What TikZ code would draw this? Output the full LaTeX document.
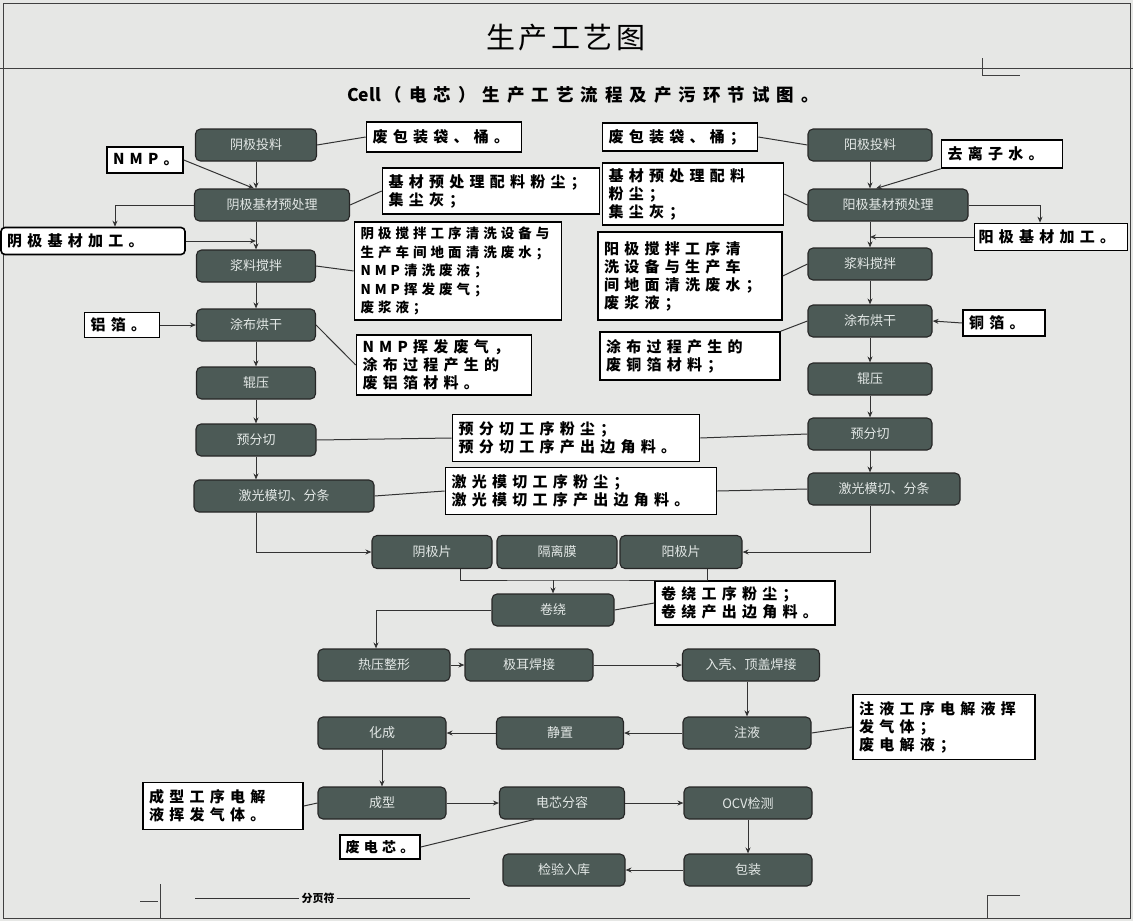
\documentclass[tikz,border=0pt]{standalone}
\usepackage{fontspec}
\newfontfamily\cjk{Noto Sans CJK SC}
\newfontfamily\cjkw[LetterSpace=35]{Noto Sans CJK SC}
\newfontfamily\cjkn[LetterSpace=30]{Noto Sans CJK SC}
\newfontfamily\cjks[LetterSpace=40]{Noto Sans CJK SC}
\newfontfamily\cjkt[LetterSpace=12]{Noto Sans CJK SC}
\usetikzlibrary{arrows.meta}
\definecolor{bg}{HTML}{E6E7E5}
\definecolor{procfill}{HTML}{4C5A56}
\definecolor{proctext}{HTML}{E3E8E6}
\begin{document}
\begin{tikzpicture}[x=1pt,y=-1pt,
 proc/.style={draw=black!85, line width=1.1pt, fill=procfill, rounded corners=5pt, text=proctext, font=\cjk\fontsize{13}{14}\selectfont, minimum height=32pt, inner sep=0pt},
 wbox/.style={draw=black, line width=1.6pt, fill=white, font=\cjkw\bfseries\fontsize{15}{18}\selectfont, align=left, inner xsep=6pt, inner ysep=0pt},
 wb/.style={wbox, text width=#1},
 conn/.style={draw=black!80, line width=1pt},
 arr/.style={conn, -{Stealth[length=6pt,width=5pt]}},
 frame/.style={draw=black!75, line width=0.8pt}
]
\fill[bg] (0,0) rectangle (1133,921);
\useasboundingbox (0,0) rectangle (1133,921);
\draw[frame] (3,3) rectangle (1130,918);
\draw[frame] (0,68) -- (1133,68);
\draw[frame] (982,58) -- (982,75) -- (1020,75);
\draw[frame] (1020,895) -- (987,895) -- (987,918);

\node[font=\cjkt\fontsize{29}{32}\selectfont] (title) at (566,38) {生产工艺图};
\node[font=\cjks\bfseries\fontsize{17.5}{18}\selectfont] (sub) at (583,95) {{\cjk\bfseries Cell\ }（电芯）生产工艺流程及产污环节试图。};

% left column
\node[proc, minimum width=121pt] (L1) at (256,145) {阴极投料};
\node[proc, minimum width=155pt] (L2) at (272,205) {阴极基材预处理};
\node[proc, minimum width=119pt] (L3) at (256,266) {浆料搅拌};
\node[proc, minimum width=119pt] (L4) at (256,325) {涂布烘干};
\node[proc, minimum width=119pt] (L5) at (256,383) {辊压};
\node[proc, minimum width=120pt] (L6) at (256,440) {预分切};
\node[proc, minimum width=180pt] (L7) at (284,496) {激光模切、分条};

% right column
\node[proc, minimum width=124pt] (R1) at (870,145) {阳极投料};
\node[proc, minimum width=160pt] (R2) at (888,205) {阳极基材预处理};
\node[proc, minimum width=124pt] (R3) at (870,264) {浆料搅拌};
\node[proc, minimum width=124pt] (R4) at (870,321) {涂布烘干};
\node[proc, minimum width=124pt] (R5) at (870,379) {辊压};
\node[proc, minimum width=124pt] (R6) at (870,434) {预分切};
\node[proc, minimum width=152pt] (R7) at (884,489) {激光模切、分条};

% left side boxes
\node[wb=64pt, minimum height=26pt] (NMP) at (145,160) {NMP。};
\node[wb=172pt, minimum height=27pt, rounded corners=4pt] (Lbase) at (93,241) {阴极基材加工。};
\node[wb=63pt, minimum height=25pt] (Alu) at (122,325) {铝箔。};
\node[wb=143pt, minimum height=30pt] (W1L) at (444,137) {废包装袋、桶。};
\node[wb=205pt, minimum height=46pt] (W2L) at (491,191) {基材预处理配料粉尘；\\集尘灰；};
\node[wb=195pt, minimum height=98pt, font=\cjkn\bfseries\fontsize{13.5}{18.5}\selectfont] (W3L) at (458,271) {阴极搅拌工序清洗设备与\\生产车间地面清洗废水；\\NMP清洗废液；\\NMP挥发废气；\\废浆液；};
\node[wb=163pt, minimum height=60pt] (W4L) at (444,365) {NMP挥发废气，\\涂布过程产生的\\废铝箔材料。};
\node[wb=235pt, minimum height=47pt] (W6) at (576,438) {预分切工序粉尘；\\预分切工序产出边角料。};
\node[wb=259pt, minimum height=47pt] (W7) at (581,491) {激光模切工序粉尘；\\激光模切工序产出边角料。};

% right side boxes
\node[wb=143pt, minimum height=28pt] (W1R) at (680,137) {废包装袋、桶；};
\node[wb=109pt, minimum height=28pt] (Water) at (1002,154) {去离子水。};
\node[wb=169pt, minimum height=62pt] (W2R) at (693,194) {基材预处理配料\\粉尘；\\集尘灰；};
\node[wb=145pt, minimum height=27pt, inner xsep=4pt] (Rbase) at (1051,237) {阳极基材加工。};
\node[wb=172pt, minimum height=88pt] (W3R) at (690,276) {阳极搅拌工序清\\洗设备与生产车\\间地面清洗废水；\\废浆液；};
\node[wb=70pt, minimum height=26pt] (Cu) at (1004,323) {铜箔。};
\node[wb=168pt, minimum height=48pt] (W4R) at (690,356) {涂布过程产生的\\废铜箔材料；};

% middle
\node[proc, minimum width=120pt, minimum height=33pt] (CP) at (432,552) {阴极片};
\node[proc, minimum width=120pt, minimum height=33pt] (SP) at (557,552) {隔离膜};
\node[proc, minimum width=122pt, minimum height=33pt] (AP) at (681,552) {阳极片};
\coordinate (J) at (553,580);
\node[proc, minimum width=122pt] (WR) at (553,610) {卷绕};
\node[wb=168pt, minimum height=44pt] (WWR) at (745,603) {卷绕工序粉尘；\\卷绕产出边角料。};

\node[proc, minimum width=132pt] (H1) at (384,665) {热压整形};
\node[proc, minimum width=128pt] (H2) at (529,665) {极耳焊接};
\node[proc, minimum width=137pt] (H3) at (751,665) {入壳、顶盖焊接};

\node[proc, minimum width=128pt] (F1) at (382,733) {化成};
\node[proc, minimum width=127pt] (F2) at (560,733) {静置};
\node[proc, minimum width=128pt] (F3) at (747,733) {注液};
\node[wb=170pt, minimum height=65pt] (WF3) at (944,727) {注液工序电解液挥\\发气体；\\废电解液；};

\node[proc, minimum width=128pt] (G1) at (382,803) {成型};
\node[proc, minimum width=125pt] (G2) at (562,803) {电芯分容};
\node[proc, minimum width=128pt] (G3) at (748,803) {OCV检测};
\node[wb=148pt, minimum height=47pt] (WG1) at (223,806) {成型工序电解\\液挥发气体。};
\node[wbox, minimum width=80pt, minimum height=24pt, inner xsep=3pt, font=\cjkn\bfseries\fontsize{14}{16}\selectfont] (Dead) at (380,847) {废电芯。};

\node[proc, minimum width=122pt] (K1) at (564,870) {检验入库};
\node[proc, minimum width=128pt] (K2) at (748,870) {包装};

% footer
\node[font=\cjk\bfseries\fontsize{11}{12}\selectfont, inner sep=2pt] (pb) at (318,898) {分页符};
\coordinate (pbl) at (195,898);
\coordinate (pbr) at (470,898);
\draw[conn, line width=0.7pt] (pbl) -- (pb.west);
\draw[conn, line width=0.7pt] (pb.east) -- (pbr);
\draw[frame] (160,884) -- (160,918);
\draw[frame] (140,901) -- (158,901);

% left connectors
\draw[arr] (L1.south) -- (L1.south |- L2.north);
\draw[arr] (NMP.east) -- ([xshift=-2pt]L1.south |- L2.north);
\draw[arr] (L2.west) -| ([xshift=22pt]Lbase.north);
\draw[arr] (Lbase.east) -- (Lbase.east -| L1.south);
\draw[arr] (L1.south |- L2.south) -- (L3.north);
\draw[arr] (L3.south) -- (L4.north);
\draw[arr] (L4.south) -- (L5.north);
\draw[arr] (L5.south) -- (L6.north);
\draw[arr] (L6.south) -- (L6.south |- L7.north);
\draw[arr] (Alu.east) -- (L4.west);
\draw[conn] (L1.east) -- (W1L.west);
\draw[conn] (L2.east) -- (W2L.west);
\draw[conn] (L3.east) -- (W3L.west);
\draw[conn] (L4.east) -- (W4L.west);
\draw[conn] (L6.east) -- (W6.west);
\draw[conn] (W6.east) -- (R6.west);
\draw[conn] (L7.east) -- (W7.west);
\draw[conn] (W7.east) -- (R7.west);
\draw[arr] (L6.south |- L7.south) |- (CP.west);

% right connectors
\draw[conn] (W1R.east) -- (R1.west);
\draw[arr] (R1.south) -- (R1.south |- R2.north);
\draw[arr] (Water.south west) -- ([xshift=6pt]R1.south |- R2.north);
\draw[arr] (R2.east) -| ([xshift=-11pt]Rbase.north);
\draw[arr] (Rbase.west) -- (Rbase.west -| R1.south);
\draw[conn] (W2R.east) -- (R2.west);
\draw[arr] (R1.south |- R2.south) -- (R3.north);
\draw[conn] (W3R.east) -- (R3.west);
\draw[arr] (R3.south) -- (R4.north);
\draw[arr] (R4.south) -- (R5.north);
\draw[arr] (R5.south) -- (R6.north);
\draw[arr] (R6.south) -- (R6.south |- R7.north);
\draw[arr] (Cu.west) -- (R4.east);
\draw[conn] (W4R.north east) -- (R4.west);
\draw[arr] (R6.south |- R7.south) |- (AP.east);

% middle connectors
\draw[conn] ([xshift=28pt]CP.south) |- (J) -| ([xshift=26pt]AP.south);
\draw[arr] (J) -- (WR.north);
\draw[conn] (WR.east) -- (WWR.west);
\draw[arr] (WR.west) -| ([xshift=-8pt]H1.north);
\draw[arr] (H1.east) -- (H2.west);
\draw[arr] (H2.east) -- (H3.west);
\draw[arr] (F3.north |- H3.south) -- (F3.north);
\draw[arr] (F3.west) -- (F2.east);
\draw[arr] (F2.west) -- (F1.east);
\draw[conn] (F3.east) -- (WF3.west);
\draw[arr] (F1.south) -- (G1.north);
\draw[conn] (WG1.east) -- (G1.west);
\draw[arr] (G1.east) -- (G2.west);
\draw[arr] (G2.east) -- (G3.west);
\draw[conn] (Dead.east) -- ([xshift=-28pt]G2.south);
\draw[arr] (G3.south) -- (K2.north);
\draw[arr] (K2.west) -- (K1.east);
\end{tikzpicture}
\end{document}
